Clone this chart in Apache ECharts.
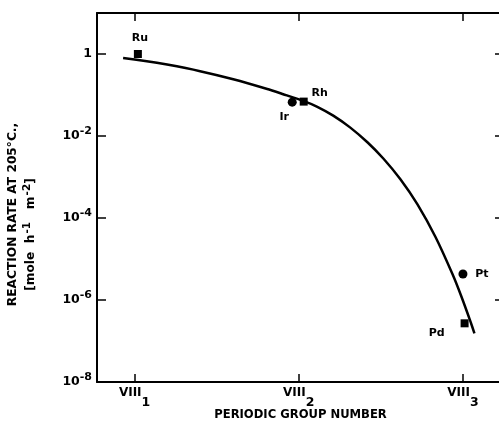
<!DOCTYPE html>
<html>
<head>
<meta charset="utf-8">
<script src="https://cdn.jsdelivr.net/npm/echarts@6/dist/echarts.min.js"></script>
<style>
  html, body { margin: 0; padding: 0; background: #fff; }
  #chart { width: 499px; height: 422px; }
</style>
</head>
<body>
<div id="chart"></div>
<script>
// Group positions along the x axis (VIII1, VIII2, VIII3)
const groupTicks = [1, 2, 3];
const groupSubscripts = ['1', '2', '3'];

// Measured rates (mole h^-1 m^-2) at 205 °C
const squareNames = ['Ru', 'Rh', 'Pd'];
const squareX = [1.02, 2.03, 3.01];
const squareY = [1.0, 0.069, 2.7e-7];

const circleNames = ['Ir', 'Pt'];
const circleX = [1.96, 3.0];
const circleY = [0.067, 4.3e-6];

// Trend curve through the group
const curveX = [0.93, 1.064, 1.198, 1.399, 1.601, 1.808, 1.905, 2.027, 2.113, 2.21, 2.314, 2.418, 2.515, 2.619, 2.723, 2.832, 2.936, 2.991, 3.046, 3.07];
const curveY = [0.799, 0.677, 0.552, 0.3815, 0.2423, 0.140, 0.1046, 0.0719, 0.0516, 0.03136, 0.01601, 7.03e-3, 2.82e-3, 8.79e-4, 2.15e-4, 3.49e-5, 4.29e-6, 1.20e-6, 2.96e-7, 1.54e-7];

// Label placement relative to each marker
const labelOffset = {
  Ru: [2, -16], Rh: [16, -8], Ir: [-8, 15], Pt: [19, 0], Pd: [-28, 10]
};

const FONT = 'DejaVu Sans';
const INK = '#000';

function pointData(names, xs, ys) {
  return names.map((n, i) => ({
    name: n,
    value: [xs[i], ys[i]],
    label: { offset: labelOffset[n] }
  }));
}

const pointLabel = {
  show: true,
  formatter: '{b}',
  position: 'inside',
  color: INK,
  fontFamily: FONT,
  fontWeight: 'bold',
  fontSize: 11
};

const chart = echarts.init(document.getElementById('chart'), null, { renderer: 'canvas' });

const xBase = {
  type: 'value',
  min: 0.771,
  max: 3.25,
  splitLine: { show: false },
  axisLine: { show: true, lineStyle: { color: INK, width: 2 } }
};
const yBase = {
  type: 'log',
  logBase: 10,
  min: 1e-8,
  max: 10,
  interval: 2,
  splitLine: { show: false },
  minorTick: { show: false },
  axisLine: { show: true, lineStyle: { color: INK, width: 2 } }
};

chart.setOption({
  animation: false,
  backgroundColor: '#fff',
  grid: { left: 97, top: 13, right: -5, bottom: 40, containLabel: false, outerBoundsMode: 'none' },
  xAxis: [
    Object.assign({}, xBase, {
      position: 'bottom',
      name: 'PERIODIC GROUP NUMBER',
      nameLocation: 'middle',
      nameGap: 27,
      nameMoveOverlap: false,
      nameTextStyle: { color: INK, fontFamily: FONT, fontWeight: 'bold', fontSize: 11.6, verticalAlign: 'top' },
      axisTick: { show: true, inside: true, length: 8, customValues: groupTicks, lineStyle: { color: INK, width: 1.5 } },
      axisLabel: {
        show: true,
        customValues: groupTicks,
        margin: 5,
        formatter: v => {
          const i = groupTicks.indexOf(Math.round(v));
          return i < 0 ? '' : '{v|VIII}{sub|' + groupSubscripts[i] + '}';
        },
        color: INK,
        verticalAlign: 'top',
        rich: {
          v: { fontFamily: FONT, fontWeight: 'bold', fontSize: 12, lineHeight: 12, verticalAlign: 'top', color: INK },
          sub: { fontFamily: FONT, fontWeight: 'bold', fontSize: 12.5, lineHeight: 22, verticalAlign: 'bottom', color: INK }
        }
      }
    }),
    Object.assign({}, xBase, {
      position: 'top',
      axisTick: { show: true, inside: true, length: 8, customValues: groupTicks, lineStyle: { color: INK, width: 1.5 } },
      axisLabel: { show: false }
    })
  ],
  yAxis: [
    Object.assign({}, yBase, {
      position: 'left',
      name: 'REACTION RATE AT 205°C.,\n[mole  h{sup|-1}   m{sup|-2}]{gap|}',
      nameLocation: 'middle',
      nameGap: 57,
      nameTextStyle: {
        color: INK, fontFamily: FONT, fontWeight: 'bold', fontSize: 12.2, lineHeight: 18,
        padding: [0, 34, 0, 0],
        rich: {
          sup: { fontFamily: FONT, fontWeight: 'bold', fontSize: 10.5, lineHeight: 18, color: INK, padding: [0, 0, 7, 1] },
          gap: { width: 40, lineHeight: 18 }
        }
      },
      axisTick: { show: true, inside: true, length: 9, lineStyle: { color: INK, width: 1.5 } },
      axisLabel: {
        show: true,
        margin: 5,
        formatter: v => {
          const e = Math.round(Math.log10(v));
          if (e > 0) return '';
          if (e === 0) return '{b|1}';
          return '{b|10}{sup|' + e + '}';
        },
        color: INK,
        rich: {
          b: { fontFamily: FONT, fontWeight: 'bold', fontSize: 12.5, lineHeight: 20, verticalAlign: 'middle', color: INK },
          sup: { fontFamily: FONT, fontWeight: 'bold', fontSize: 11, lineHeight: 20, verticalAlign: 'top', color: INK }
        }
      }
    }),
    Object.assign({}, yBase, {
      position: 'right',
      axisTick: { show: true, inside: true, length: 9, lineStyle: { color: INK, width: 1.5 } },
      axisLabel: { show: false }
    })
  ],
  series: [
    {
      name: 'trend',
      type: 'line',
      xAxisIndex: 0,
      yAxisIndex: 0,
      data: curveX.map((x, i) => [x, curveY[i]]),
      smooth: 0.2,
      showSymbol: false,
      lineStyle: { color: INK, width: 2.5 },
      z: 2
    },
    {
      name: 'squares',
      type: 'scatter',
      xAxisIndex: 0,
      yAxisIndex: 0,
      symbol: 'rect',
      symbolSize: 8,
      itemStyle: { color: INK, opacity: 1 },
      label: pointLabel,
      data: pointData(squareNames, squareX, squareY),
      z: 3
    },
    {
      name: 'circles',
      type: 'scatter',
      xAxisIndex: 0,
      yAxisIndex: 0,
      symbol: 'circle',
      symbolSize: 9,
      itemStyle: { color: INK, opacity: 1 },
      label: pointLabel,
      data: pointData(circleNames, circleX, circleY),
      z: 3
    }
  ]
});
</script>
</body>
</html>
